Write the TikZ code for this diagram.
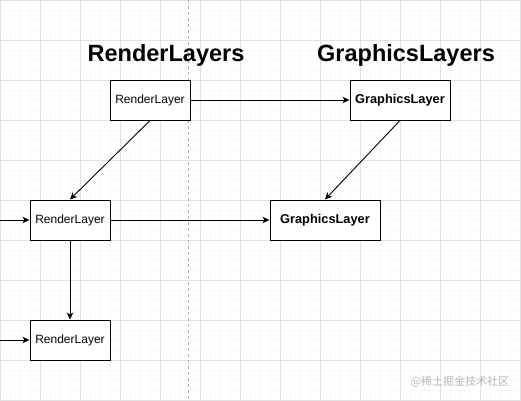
\documentclass[tikz,border=0pt]{standalone}
\usepackage{fontspec}
\setmainfont{Liberation Sans}
\newfontfamily\cjk{Noto Sans CJK SC}
\usetikzlibrary{arrows.meta}
\definecolor{gridminor}{HTML}{F8F8F8}
\definecolor{gridmajor}{HTML}{E0E0E0}
\definecolor{dashgray}{HTML}{B4B4B4}
\definecolor{wmgray}{HTML}{B8B8B8}
\tikzset{
  layerbox/.style={draw=black, line width=1pt, fill=white, inner sep=0pt,
    minimum height=40pt, font=\fontsize{12}{14}\selectfont},
  gfxbox/.style={layerbox, font=\fontsize{12.8}{14}\selectfont\bfseries},
  title/.style={font=\fontsize{23.5}{28}\selectfont\bfseries, inner sep=0pt},
  link/.style={draw=black, line width=0.9pt, -{Stealth[length=7pt,width=6.5pt,inset=2pt]}},
}
\begin{document}
\begin{tikzpicture}[x=1pt,y=-1pt]
\useasboundingbox (0,0) rectangle (521,400);
\fill[white] (0,0) rectangle (521,400);
% grid
\foreach \i in {0,10,...,520} \draw[gridminor, line width=0.8pt] (\i+0.5,0) -- (\i+0.5,400);
\foreach \j in {0,10,...,400} \draw[gridminor, line width=0.8pt] (0,\j+0.5) -- (521,\j+0.5);
\foreach \i in {0,40,...,520} \draw[gridmajor, line width=0.8pt] (\i+0.5,0) -- (\i+0.5,400);
\foreach \j in {0,40,...,400} \draw[gridmajor, line width=0.8pt] (0,\j+0.5) -- (521,\j+0.5);
% separator
\coordinate (septop) at (188,0);
\coordinate (sepbot) at (188,400);
\draw[dashgray, line width=0.8pt, dash pattern=on 3pt off 3pt] (septop) -- (sepbot);
% titles
\node[title] (t1) at (166,55) {RenderLayers};
\node[title] (t2) at (406,55) {GraphicsLayers};
% boxes
\node[layerbox, minimum width=80pt] (r1) at (150,100) {RenderLayer};
\node[layerbox, minimum width=80pt] (r2) at (70,220) {RenderLayer};
\node[layerbox, minimum width=80pt] (r3) at (70,340) {RenderLayer};
\node[gfxbox, minimum width=100pt] (g1) at (400,100) {GraphicsLayer};
\node[gfxbox, minimum width=110pt] (g2) at (325,220) {GraphicsLayer};
% incoming ends
\coordinate (in2) at (0,220);
\coordinate (in3) at (0,340);
% connectors
\draw[link] (r1.south) -- (r2.north);
\draw[link] (r1.east) -- (g1.west);
\draw[link] (g1.south) -- (g2.north);
\draw[link] (r2.east) -- (g2.west);
\draw[link] (r2.south) -- (r3.north);
\draw[link] (in2) -- (r2.west);
\draw[link] (in3) -- (r3.west);
% watermark
\node[wmgray, font=\cjk\fontsize{11}{13}\selectfont, inner sep=0pt] (wm) at (460,382) {@稀土掘金技术社区};
\end{tikzpicture}
\end{document}
